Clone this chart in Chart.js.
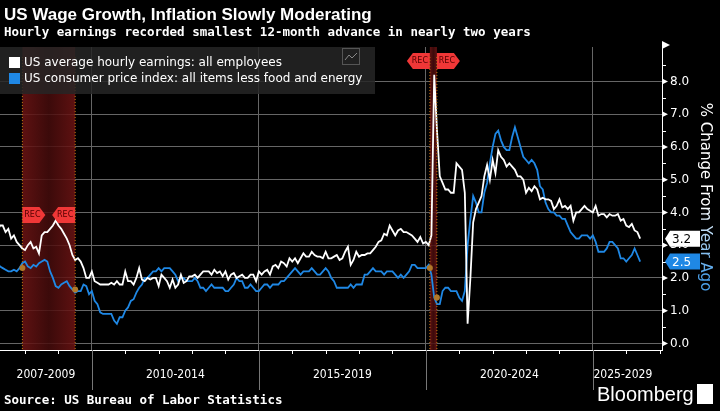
<!DOCTYPE html>
<html>
<head>
<meta charset="utf-8">
<script src="https://cdn.jsdelivr.net/npm/chart.js@4"></script>
<style>
  html, body { margin: 0; padding: 0; background: #000; }
  #wrap { position: relative; width: 720px; height: 411px; }
  canvas { position: absolute; left: 0; top: 0; }
</style>
</head>
<body>
<div id="wrap"><canvas id="c" width="720" height="411"></canvas></div>
<script>
// monthly YoY %, Mar 2007 .. Jun 2026
var startYear = 2007, startMonth = 3;
var earnings = [].concat(
  [3.4,3.6,3.6,3.4,3.5,3.2,3.3,3.1,3.0,2.9],
  [2.85,3.0,3.1,2.9,2.95,2.75,3.3,3.4,3.4,3.5,3.6,3.75],
  [3.6,3.5,3.35,3.2,3.0,2.7,2.55,2.6,2.5,2.3,2.0,2.0],
  [2.2,1.9,1.85,1.8,1.8,1.8,1.8,1.85,1.8,1.9,1.8,1.8],
  [2.2,1.9,1.9,1.8,2.0,2.3,1.95,1.9,2.0,1.95,2.0,2.0],
  [1.75,2.1,2.0,1.9,1.7,1.95,1.7,1.8,2.1,1.85,1.9,2.05],
  [2.05,2.1,2.0,2.1,2.2,2.2,2.2,2.1,2.25,2.15,2.2,2.05],
  [2.2,1.95,2.1,2.15,2.0,2.05,2.1,2.0,2.0,2.1,2.1,1.9],
  [2.2,2.1,2.2,2.25,2.1,2.35,2.4,2.3,2.5,2.45,2.35,2.6],
  [2.5,2.6,2.45,2.6,2.75,2.65,2.65,2.8,2.7,2.65,2.65,2.6],
  [2.8,2.6,2.6,2.65,2.7,2.55,2.6,2.8,2.95,2.4,2.55,2.8],
  [2.65,2.7,2.7,2.75,2.75,2.85,2.95,3.1,3.15,3.35,3.3,3.6],
  [3.45,3.3,3.45,3.5,3.4,3.4,3.35,3.3,3.2,3.1,3.25,3.05],
  [3.1,3.0,3.3,8.2,6.5,5.1,4.9,4.7,4.7,4.6,4.6,5.5],
  [5.4,5.3,4.6,0.6,2.0,3.7,4.1,4.3,4.5,5.1,5.45,5.0],
  [5.6,5.2,5.9,5.7,5.6,5.4,5.5,5.4,5.3,5.1,5.1,5.0],
  [4.6,4.75,4.65,4.8,4.7,4.4,4.45,4.4,4.4,4.35,4.1,4.2],
  [4.4,4.15,4.2,4.1,4.2,3.75,4.0,4.0,4.1,4.2,4.1,4.05],
  [4.0,4.2,3.9,3.95,3.95,3.85,3.95,3.9,3.9,3.95,3.75,3.8],
  [3.6,3.55,3.65,3.45,3.4,3.2]
);
var coreCpi = [].concat(
  [2.5,2.35,2.3,2.25,2.2,2.2,2.25,2.2,2.3,2.45],
  [2.5,2.35,2.3,2.4,2.35,2.45,2.5,2.55,2.5,2.2,2.0,1.75],
  [1.7,1.8,1.85,1.9,1.75,1.65,1.55,1.6,1.6,1.8,1.75,1.5],
  [1.6,1.3,1.2,0.95,0.9,0.9,0.9,0.9,0.7,0.6,0.8,0.8],
  [1.0,1.1,1.3,1.35,1.55,1.7,1.8,2.0,2.0,2.1,2.2,2.2],
  [2.3,2.2,2.3,2.3,2.3,2.2,2.1,1.9,2.0,2.0,1.9,1.9],
  [1.9,2.0,1.9,1.7,1.7,1.6,1.7,1.8,1.7,1.7,1.7,1.7],
  [1.6,1.6,1.7,1.8,2.0,1.9,1.9,1.7,1.7,1.8,1.7,1.6],
  [1.6,1.7,1.8,1.8,1.7,1.8,1.8,1.8,1.9,1.9,2.0,2.1],
  [2.2,2.3,2.2,2.1,2.2,2.2,2.2,2.3,2.2,2.1,2.1,2.2],
  [2.3,2.2,2.0,1.9,1.7,1.7,1.7,1.7,1.7,1.8,1.7,1.8],
  [1.8,1.8,2.1,2.1,2.2,2.3,2.2,2.2,2.2,2.1,2.2,2.2],
  [2.2,2.1,2.0,2.1,2.0,2.1,2.2,2.4,2.4,2.3,2.3,2.3],
  [2.3,2.4,2.1,1.4,1.2,1.2,1.6,1.7,1.7,1.6,1.6,1.6],
  [1.4,1.3,1.6,3.0,3.8,4.5,4.3,4.0,4.0,4.6,4.9,5.5],
  [6.0,6.4,6.5,6.2,6.0,5.9,5.9,6.3,6.6,6.3,6.0,5.7],
  [5.6,5.5,5.6,5.5,5.3,4.8,4.7,4.3,4.1,4.0,4.0,3.9],
  [3.9,3.8,3.8,3.6,3.4,3.3,3.2,3.2,3.3,3.3,3.3,3.2],
  [3.3,3.1,2.8,2.8,2.8,2.9,3.1,3.1,3.0,2.9,2.6,2.6],
  [2.5,2.6,2.7,2.9,2.7,2.5]
);
var recessions = [[2007.92, 2009.5], [2020.12, 2020.33]];
var periodLabels = ['2007-2009', '2010-2014', '2015-2019', '2020-2024', '2025-2029'];
var periodStarts = [2007, 2010, 2015, 2020, 2025];
var yTicks = [0, 1, 2, 3, 4, 5, 6, 7, 8];

function toPoints(arr) {
  return arr.map(function(v, i) {
    return { x: startYear + (startMonth - 1 + i) / 12, y: v };
  });
}

var xMin = 2007.25, xMax = 2027.07;

var decor = {
  id: 'decor',
  beforeDatasetsDraw: function(chart) {
    var ctx = chart.ctx, a = chart.chartArea, xs = chart.scales.x;
    recessions.forEach(function(r) {
      var x0 = xs.getPixelForValue(r[0]), x1 = xs.getPixelForValue(r[1]);
      var g = ctx.createLinearGradient(x0, 0, x1, 0);
      g.addColorStop(0, 'rgba(110,20,20,0.85)');
      g.addColorStop(0.5, 'rgba(70,12,12,0.85)');
      g.addColorStop(1, 'rgba(110,20,20,0.85)');
      ctx.fillStyle = g;
      ctx.fillRect(x0, a.top, x1 - x0, a.bottom - a.top);
    });
  },
  afterDatasetsDraw: function(chart) {
    var ctx = chart.ctx, a = chart.chartArea, xs = chart.scales.x, ys = chart.scales.y;
    ctx.save();
    function recTag(x, y, dir) {
      ctx.fillStyle = '#f03737';
      ctx.beginPath();
      ctx.moveTo(x, y - 8); ctx.lineTo(x + dir * 17, y - 8); ctx.lineTo(x + dir * 23, y);
      ctx.lineTo(x + dir * 17, y + 8); ctx.lineTo(x, y + 8);
      ctx.closePath(); ctx.fill();
      ctx.fillStyle = '#500';
      ctx.font = '8px "DejaVu Sans"';
      ctx.textAlign = 'center'; ctx.textBaseline = 'middle';
      ctx.fillText('REC', x + dir * 10, y);
    }
    recTag(xs.getPixelForValue(recessions[0][0]), 215, 1);
    recTag(xs.getPixelForValue(recessions[0][1]), 215, -1);
    recTag(xs.getPixelForValue(recessions[1][0]), 61, -1);
    recTag(xs.getPixelForValue(recessions[1][1]), 61, 1);
    ctx.strokeStyle = '#c07a10'; ctx.setLineDash([1, 2]); ctx.lineWidth = 1;
    recessions.forEach(function(r) {
      r.forEach(function(t) {
        var x = xs.getPixelForValue(t);
        ctx.beginPath(); ctx.moveTo(x, a.top + 10); ctx.lineTo(x, a.bottom); ctx.stroke();
      });
    });
    ctx.setLineDash([]);
    ctx.fillStyle = '#b0782a';
    recessions.forEach(function(r) {
      r.forEach(function(t) {
        var i = Math.round((t - xMin) * 12);
        var x = xs.getPixelForValue(t), y = ys.getPixelForValue(coreCpi[i]);
        ctx.beginPath(); ctx.arc(x, y, 3, 0, Math.PI * 2); ctx.fill();
      });
    });
    // x axis line and year ticks
    ctx.strokeStyle = '#fff'; ctx.lineWidth = 1;
    ctx.beginPath(); ctx.moveTo(a.left, a.bottom + 0.5); ctx.lineTo(a.right, a.bottom + 0.5); ctx.stroke();
    for (var yr = 2008; yr <= 2027; yr++) {
      var x = Math.round(xs.getPixelForValue(yr)) + 0.5;
      ctx.beginPath(); ctx.moveTo(x, a.bottom); ctx.lineTo(x, a.bottom + 4); ctx.stroke();
    }
    ctx.strokeStyle = '#777';
    periodStarts.slice(1).forEach(function(yr) {
      var x = Math.round(xs.getPixelForValue(yr)) + 0.5;
      ctx.beginPath(); ctx.moveTo(x, a.bottom); ctx.lineTo(x, a.bottom + 40); ctx.stroke();
    });
    ctx.fillStyle = '#fff';
    ctx.font = '12px "Liberation Sans Narrow", "DejaVu Sans Condensed", sans-serif';
    ctx.textAlign = 'center'; ctx.textBaseline = 'middle';
    periodLabels.forEach(function(l, i) {
      var s = Math.max(periodStarts[i], xMin), e = Math.min(periodStarts[i] + 5, xMax);
      if (i === 0) e = 2010;
      var x = (xs.getPixelForValue(s) + xs.getPixelForValue(e)) / 2;
      if (i === 4) x = xs.getPixelForValue(2025) + 30;
      ctx.fillText(l, x, a.bottom + 25);
    });
    // y axis: arrow, triangle ticks, half-step minor ticks
    var ax = a.right;
    ctx.fillStyle = '#fff'; ctx.strokeStyle = '#fff';
    ctx.beginPath(); ctx.moveTo(ax, a.top - 6); ctx.lineTo(ax + 8, a.top - 2); ctx.lineTo(ax, a.top + 2); ctx.closePath(); ctx.fill();
    for (var v = 0.5; v < 9; v += 1) {
      var yy = Math.round(ys.getPixelForValue(v)) + 0.5;
      ctx.beginPath(); ctx.moveTo(ax, yy); ctx.lineTo(ax + 4, yy); ctx.stroke();
    }
    yTicks.forEach(function(t) {
      var yy = ys.getPixelForValue(t);
      ctx.beginPath(); ctx.moveTo(ax, yy - 3); ctx.lineTo(ax + 6, yy); ctx.lineTo(ax, yy + 3); ctx.closePath(); ctx.fill();
    });
    function tag(v, bg, fg) {
      var y = ys.getPixelForValue(v);
      ctx.fillStyle = bg;
      ctx.beginPath();
      ctx.moveTo(ax + 3, y); ctx.lineTo(ax + 8, y - 8); ctx.lineTo(ax + 38, y - 8);
      ctx.lineTo(ax + 38, y + 8); ctx.lineTo(ax + 8, y + 8); ctx.closePath(); ctx.fill();
      ctx.fillStyle = fg;
      ctx.font = '12px "DejaVu Sans"'; ctx.textAlign = 'left';
      ctx.fillText(v.toFixed(1), ax + 10, y + 1);
    }
    tag(earnings[earnings.length - 1], '#fff', '#000');
    tag(coreCpi[coreCpi.length - 1], '#1f88e5', '#fff');
    // legend box
    ctx.fillStyle = 'rgba(38,38,38,0.85)';
    ctx.fillRect(0, 47, 375, 47);
    ctx.strokeStyle = '#555'; ctx.strokeRect(342.5, 48.5, 17, 16);
    ctx.strokeStyle = '#888';
    ctx.beginPath(); ctx.moveTo(345, 60); ctx.lineTo(349, 55); ctx.lineTo(352, 58); ctx.lineTo(357, 53); ctx.stroke();
    ctx.font = '12px "DejaVu Sans"'; ctx.textAlign = 'left';
    ctx.fillStyle = '#fff'; ctx.fillRect(9, 57, 11, 11);
    ctx.fillText('US average hourly earnings: all employees', 24, 63);
    ctx.fillStyle = '#1f88e5'; ctx.fillRect(9, 73, 11, 11);
    ctx.fillStyle = '#fff';
    ctx.fillText('US consumer price index: all items less food and energy', 24, 79);
    // titles
    ctx.font = 'bold 17px "Liberation Sans", Arial, sans-serif';
    ctx.textBaseline = 'alphabetic';
    ctx.fillText('US Wage Growth, Inflation Slowly Moderating', 4, 20);
    ctx.font = 'bold 12.5px "DejaVu Sans Mono", monospace';
    ctx.fillText('Hourly earnings recorded smallest 12-month advance in nearly two years', 4, 36);
    ctx.fillText('Source: US Bureau of Labor Statistics', 4, 404);
    ctx.font = '20px "Liberation Sans Narrow", "Liberation Sans", sans-serif';
    ctx.fillText('Bloomberg', 597, 401);
    ctx.fillRect(697, 384, 16, 20);
    // rotated axis title, white fading to blue
    ctx.save();
    ctx.translate(705, 197);
    ctx.rotate(Math.PI / 2);
    var tg = ctx.createLinearGradient(-80, 0, 80, 0);
    tg.addColorStop(0, '#fff'); tg.addColorStop(0.55, '#fff'); tg.addColorStop(1, '#4a9fe8');
    ctx.fillStyle = tg;
    ctx.font = '15px "DejaVu Sans"';
    ctx.textAlign = 'center'; ctx.textBaseline = 'middle';
    ctx.fillText('% Change From Year Ago', 0, 0);
    ctx.restore();
    ctx.restore();
  }
};

new Chart(document.getElementById('c'), {
  type: 'line',
  data: {
    datasets: [
      { label: 'US average hourly earnings: all employees', data: toPoints(earnings),
        borderColor: '#ffffff', borderWidth: 1.8, pointRadius: 0, tension: 0 },
      { label: 'US consumer price index: all items less food and energy', data: toPoints(coreCpi),
        borderColor: '#1f88e5', borderWidth: 1.8, pointRadius: 0, tension: 0 }
    ]
  },
  options: {
    responsive: false, animation: false, devicePixelRatio: 1,
    layout: { padding: { top: 47, left: 0, right: 0, bottom: 61 } },
    plugins: { legend: { display: false }, tooltip: { enabled: false } },
    scales: {
      x: {
        type: 'linear', min: xMin, max: xMax,
        afterBuildTicks: function(s) { s.ticks = [2010, 2015, 2020, 2025].map(function(v) { return { value: v }; }); },
        afterFit: function(s) { s.height = 0; },
        ticks: { display: false },
        grid: { color: '#666', borderDash: [2, 3], drawTicks: false },
        border: { display: false }
      },
      y: {
        position: 'right', min: -0.2, max: 9.05,
        afterBuildTicks: function(s) { s.ticks = yTicks.map(function(v) { return { value: v }; }); },
        afterFit: function(s) { s.width = 58; },
        ticks: { color: '#fff', padding: 8, font: { family: 'DejaVu Sans', size: 12 },
          callback: function(v) { return v.toFixed(1); } },
        grid: { color: '#666', borderDash: [2, 3], drawTicks: false },
        border: { color: '#fff' }
      }
    }
  },
  plugins: [decor]
});
</script>
</body>
</html>
